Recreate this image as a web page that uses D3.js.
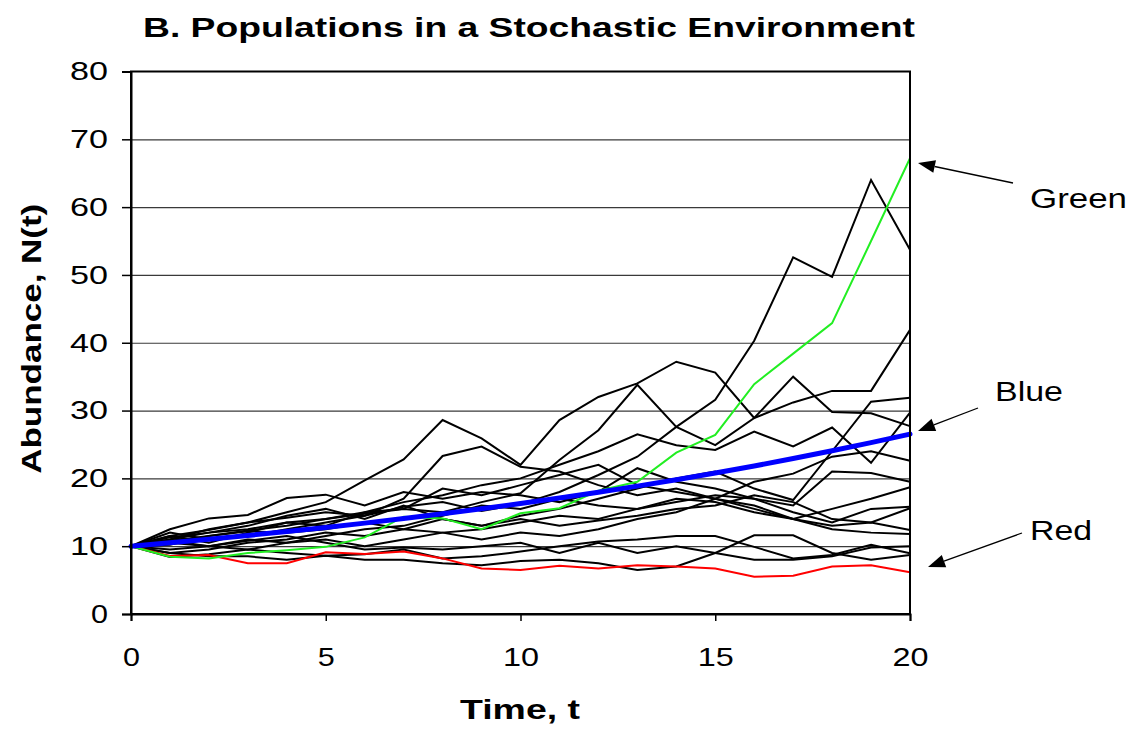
<!DOCTYPE html>
<html>
<head>
<meta charset="utf-8">
<script src="https://cdn.jsdelivr.net/npm/d3@7"></script>
<style>
  html, body { margin: 0; padding: 0; background: #fff; }
  svg { display: block; font-family: "Liberation Sans", Arial, sans-serif; }
</style>
</head>
<body>
<script>
// ---------------- DATA ----------------
const times = [0,1,2,3,4,5,6,7,8,9,10,11,12,13,14,15,16,17,18,19,20];
const yTicks = [0,10,20,30,40,50,60,70,80];
const xTicks = [0,5,10,15,20];

const blueSeries  = [10,10.5,11.03,11.58,12.16,12.76,13.4,14.07,14.77,15.51,16.29,17.1,17.96,18.86,19.8,20.79,21.83,22.92,24.07,25.27,26.53];
const greenSeries = [10,8.45,8.2,9.0,9.4,9.9,11.3,14.35,14.1,12.5,14.85,15.6,18.2,19.5,23.8,26.4,33.9,38.4,42.9,55.0,67.2];
const redSeries   = [10,8.55,8.7,7.5,7.5,9.1,8.85,9.2,8.2,6.7,6.5,7.1,6.7,7.2,7.0,6.7,5.5,5.65,7.0,7.2,6.15];

const black01 = [10,11.5,12.4,13.5,14.2,15.0,14.5,15.8,16.5,15.2,16.2,18.0,20.5,23.2,27.6,31.6,40.3,52.6,49.7,64.0,53.7];
const black02 = [10,11.0,12.5,13.5,15.0,16.5,19.7,22.8,28.6,25.9,22.0,28.6,32.0,34.0,37.2,35.6,28.9,31.2,32.9,32.9,41.9];
const black03 = [10,12.0,11.0,11.5,12.5,13.5,14.5,17.0,23.3,24.7,21.7,21.0,19.0,17.5,18.5,17.0,15.5,14.0,13.0,13.5,12.4];
const black04 = [10,10.8,11.5,12.3,13.0,14.0,14.8,15.5,15.0,16.5,17.8,22.7,27.1,33.8,27.6,24.9,28.9,35.0,29.8,29.6,27.7];
const black05 = [10,9.0,9.5,10.5,11.0,12.0,11.5,12.5,14.0,13.0,14.5,15.5,17.0,18.5,20.0,21.0,18.5,16.8,24.0,31.3,31.9];
const black06 = [10,11.0,12.0,12.5,13.5,14.0,15.0,16.5,17.5,19.0,20.0,22.0,24.0,26.5,24.9,24.2,26.9,24.7,27.5,22.3,29.7];
const black07 = [10,11.5,10.5,12.0,13.5,13.0,15.0,15.5,18.5,17.5,19.0,20.5,22.0,19.0,18.0,17.0,19.5,20.7,23.2,24.0,22.6];
const black08 = [10,12.5,14.1,14.6,17.1,17.6,16.0,18.0,17.0,18.0,17.5,16.5,18.0,21.5,19.5,18.5,17.0,16.0,21.0,20.8,19.5];
const black09 = [10,9.5,10.0,11.0,10.5,11.5,12.5,13.0,14.5,16.0,15.5,17.0,16.0,15.5,17.0,16.5,15.0,14.0,15.5,17.0,18.7];
const black10 = [10,10.8,10.0,9.5,10.5,11.0,10.0,11.0,12.0,12.5,13.5,14.5,14.0,15.5,16.5,17.5,17.0,15.0,13.5,15.5,15.8];
const black11 = [10,11.3,12.0,13.0,14.5,15.5,14.0,16.0,14.0,13.0,14.0,13.0,13.8,14.5,15.5,16.0,17.5,16.5,14.0,13.5,15.6];
const black12 = [10,10.2,11.5,12.2,12.0,12.5,13.5,12.5,12.0,11.0,12.0,11.5,12.5,14.0,15.0,17.0,16.0,14.0,12.5,12.0,11.8];
const black13 = [10,8.4,8.8,9.5,9.0,8.6,8.8,9.5,8.2,8.5,9.2,10.0,10.7,11.0,11.5,11.5,9.9,8.2,8.7,10.2,8.95];
const black14 = [10,9.0,8.5,8.5,8.0,8.6,8.0,8.0,7.5,7.2,7.8,8.0,7.5,6.5,7.0,9.0,11.6,11.6,9.0,8.0,8.7];
const black15 = [10,10.5,10.0,10.8,11.5,10.5,9.5,9.8,9.5,10.0,10.5,9.0,10.5,9.0,10.0,9.0,8.0,8.0,8.5,9.8,10.0];
const blackSeries = [black01,black02,black03,black04,black05,black06,black07,black08,black09,black10,black11,black12,black13,black14,black15];

const titleText = "B. Populations in a Stochastic Environment";
const xTitle = "Time, t";
const yTitle = "Abundance, N(t)";
const labelGreen = "Green", labelBlue = "Blue", labelRed = "Red";

// ---------------- CHART ----------------
const W = 1137, H = 732;
const svg = d3.select("body").append("svg").attr("width", W).attr("height", H);

const x = d3.scaleLinear().domain([0, 20]).range([131, 910]);
const y = d3.scaleLinear().domain([0, 80]).range([614, 71.5]);

// gridlines
svg.append("g")
  .attr("transform", `translate(${x(0)},0)`)
  .call(d3.axisLeft(y).tickValues(yTicks.filter(v => v > 0 && v < 80)).tickSize(-(x(20) - x(0))).tickFormat(""))
  .call(g => g.select(".domain").remove())
  .call(g => g.selectAll("line").attr("stroke", "#3a3a3a").attr("stroke-width", 1.2));

// series lines
const line = d3.line().x((d, i) => x(times[i])).y(d => y(d));

svg.append("g").selectAll("path.black").data(blackSeries).join("path")
  .attr("class", "black")
  .attr("d", d => line(d))
  .attr("fill", "none").attr("stroke", "#000").attr("stroke-width", 2)
  .attr("stroke-linejoin", "miter");

svg.append("path").attr("d", line(redSeries))
  .attr("fill", "none").attr("stroke", "#ff0000").attr("stroke-width", 2);
svg.append("path").attr("d", line(greenSeries))
  .attr("fill", "none").attr("stroke", "#22ee22").attr("stroke-width", 2);
svg.append("path").attr("d", line(blueSeries))
  .attr("fill", "none").attr("stroke", "#0000ff").attr("stroke-width", 5)
  .attr("stroke-linecap", "round");

// plot frame
svg.append("rect")
  .attr("x", x(0)).attr("y", y(80))
  .attr("width", x(20) - x(0)).attr("height", y(0) - y(80))
  .attr("fill", "none").attr("stroke", "#000").attr("stroke-width", 2);

// y axis
const yAxis = svg.append("g")
  .attr("transform", `translate(${x(0)},0)`)
  .call(d3.axisLeft(y).tickValues(yTicks).tickSize(9).tickPadding(14).tickFormat(d3.format("d")));
yAxis.select(".domain").attr("stroke", "#000").attr("stroke-width", 2);
yAxis.selectAll("line").attr("stroke", "#000").attr("stroke-width", 1.5);
yAxis.selectAll("text")
  .attr("font-size", 26).attr("fill", "#000")
  .attr("font-family", "'Liberation Sans', Arial, sans-serif")
  .attr("textLength", d => String(d).length === 1 ? 17 : 38)
  .attr("lengthAdjust", "spacingAndGlyphs");

// x axis
const xAxis = svg.append("g")
  .attr("transform", `translate(0,${y(0)})`)
  .call(d3.axisBottom(x).tickValues(xTicks).tickSize(7).tickPadding(27).tickFormat(d3.format("d")));
xAxis.select(".domain").attr("stroke", "#000").attr("stroke-width", 2);
xAxis.selectAll("line").attr("stroke", "#000").attr("stroke-width", 1.5);
xAxis.selectAll("text")
  .attr("font-size", 26).attr("fill", "#000")
  .attr("font-family", "'Liberation Sans', Arial, sans-serif")
  .attr("textLength", d => String(d).length === 1 ? 17 : 36)
  .attr("lengthAdjust", "spacingAndGlyphs");

// titles
svg.append("text")
  .attr("x", 143).attr("y", 37)
  .attr("font-size", 27).attr("font-weight", "bold")
  .attr("textLength", 772).attr("lengthAdjust", "spacingAndGlyphs")
  .text(titleText);

svg.append("text")
  .attr("x", 520).attr("y", 719)
  .attr("text-anchor", "middle")
  .attr("font-size", 27).attr("font-weight", "bold")
  .attr("textLength", 120).attr("lengthAdjust", "spacingAndGlyphs")
  .text(xTitle);

svg.append("text")
  .attr("transform", `translate(41,${(y(0) + y(80)) / 2 - 4}) rotate(-90)`)
  .attr("text-anchor", "middle")
  .attr("font-size", 28).attr("font-weight", "bold")
  .attr("textLength", 270).attr("lengthAdjust", "spacingAndGlyphs")
  .text(yTitle);

// annotations
function arrow(x1, y1, x2, y2) {
  const ang = Math.atan2(y2 - y1, x2 - x1);
  const L = 17, hw = 6.5;
  const bx = x2 - L * Math.cos(ang), by = y2 - L * Math.sin(ang);
  svg.append("line").attr("x1", x1).attr("y1", y1).attr("x2", bx).attr("y2", by)
    .attr("stroke", "#000").attr("stroke-width", 1.3);
  const px = -Math.sin(ang) * hw, py = Math.cos(ang) * hw;
  svg.append("polygon")
    .attr("points", `${x2},${y2} ${bx + px},${by + py} ${bx - px},${by - py}`)
    .attr("fill", "#000");
}
arrow(1013, 183, 918, 163);
arrow(978, 408, 918, 431);
arrow(1022, 533, 928, 567);

svg.append("text").attr("x", 1030).attr("y", 208).attr("font-size", 27)
  .attr("textLength", 97).attr("lengthAdjust", "spacingAndGlyphs").text(labelGreen);
svg.append("text").attr("x", 995).attr("y", 401).attr("font-size", 27)
  .attr("textLength", 68).attr("lengthAdjust", "spacingAndGlyphs").text(labelBlue);
svg.append("text").attr("x", 1030).attr("y", 540).attr("font-size", 27)
  .attr("textLength", 62).attr("lengthAdjust", "spacingAndGlyphs").text(labelRed);
</script>
</body>
</html>
